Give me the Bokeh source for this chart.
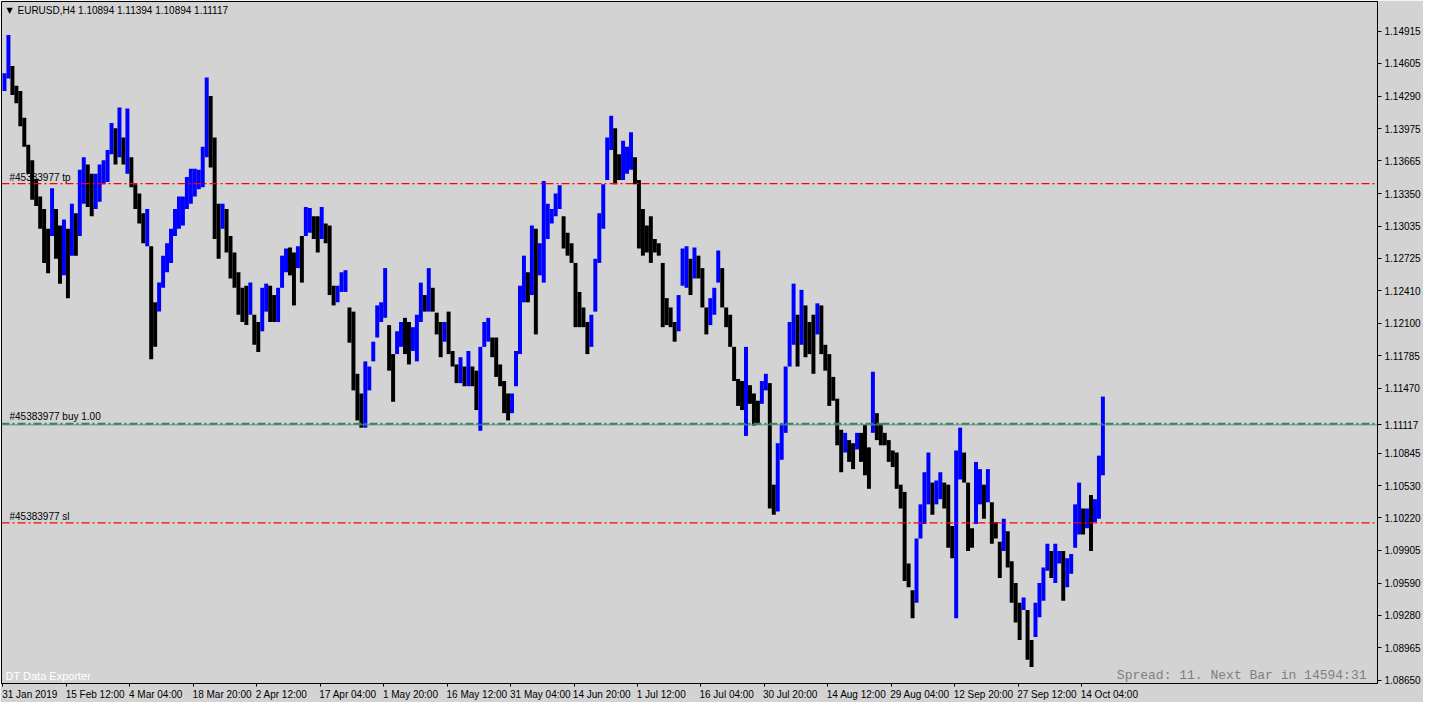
from bokeh.plotting import figure
from bokeh.models import (Range1d, LinearAxis, FixedTicker, Span, Label,
                          ColumnDataSource, NumeralTickFormatter)
from bokeh.embed import file_html
from bokeh.resources import INLINE

# ---------------- data ----------------
chart_title = "EURUSD,H4  1.10894 1.11394 1.10894 1.11117"

price_ticks = [1.14915, 1.14605, 1.14290, 1.13975, 1.13665, 1.13350, 1.13035,
               1.12725, 1.12410, 1.12100, 1.11785, 1.11470, 1.11117, 1.10845,
               1.10530, 1.10220, 1.09905, 1.09590, 1.09280, 1.08965, 1.08650]

time_labels = ["31 Jan 2019", "15 Feb 12:00", "4 Mar 04:00", "18 Mar 20:00",
               "2 Apr 12:00", "17 Apr 04:00", "1 May 20:00", "16 May 12:00",
               "31 May 04:00", "14 Jun 20:00", "1 Jul 12:00", "16 Jul 04:00",
               "30 Jul 20:00", "14 Aug 12:00", "29 Aug 04:00", "12 Sep 20:00",
               "27 Sep 12:00", "14 Oct 04:00"]
time_label_bars = [0, 64, 128, 192, 256, 320, 384, 448, 512, 576, 640, 704,
                   768, 832, 896, 960, 1024, 1088]

bars_per_group = 4          # each entry below summarises 4 consecutive H4 bars
price_base = 1.0800         # price = price_base + pips / 10000
high_pips = [
    651, 688, 658, 639, 634, 608, 582, 567, 549, 532, 520, 501, 540, 520, 504, 510,
    501, 525, 516, 558, 570, 563, 554, 554, 563, 567, 577, 603, 598, 618, 589, 617,
    570, 544, 535, 516, 520, 484, 430, 449, 475, 487, 501, 520, 532, 532, 551, 559,
    559, 558, 580, 647, 629, 589, 525, 525, 520, 494, 478, 459, 444, 446, 449, 418,
    411, 444, 448, 446, 437, 444, 475, 482, 483, 478, 484, 494, 522, 521, 513, 513,
    522, 506, 504, 446, 446, 459, 461, 425, 421, 361, 342, 373, 368, 392, 427, 430,
    463, 408, 380, 402, 411, 415, 411, 406, 418, 449, 437, 463, 444, 420, 411, 411,
    421, 383, 370, 377, 368, 383, 368, 364, 387, 411, 415, 396, 396, 370, 354, 342,
    342, 383, 446, 475, 459, 504, 501, 487, 547, 525, 520, 535, 543, 513, 497, 487,
    468, 440, 425, 411, 418, 472, 516, 544, 589, 610, 598, 573, 586, 580, 594, 570,
    548, 520, 504, 513, 491, 487, 468, 434, 425, 411, 437, 482, 484, 472, 483, 475,
    463, 425, 434, 444, 480, 463, 425, 418, 387, 356, 354, 387, 350, 342, 335, 354,
    361, 352, 254, 294, 313, 368, 411, 448, 418, 442, 427, 411, 418, 429, 427, 389,
    380, 358, 337, 307, 304, 297, 294, 304, 304, 312, 290, 363, 323, 313, 304, 297,
    287, 285, 254, 247, 178, 152, 202, 235, 266, 285, 256, 258, 266, 256, 254, 214,
    287, 309, 285, 256, 212, 276, 269, 254, 269, 237, 218, 199, 221, 209, 180, 159,
    140, 145, 133, 104, 140, 159, 174, 197, 190, 197, 190, 190, 183, 187, 235, 256,
    231, 231, 244, 240, 282, 339]
low_pips = [
    634, 646, 630, 622, 600, 580, 554, 529, 523, 501, 468, 458, 494, 472, 448, 456,
    434, 475, 475, 494, 525, 522, 513, 520, 527, 544, 546, 573, 563, 570, 563, 554,
    541, 520, 506, 487, 484, 375, 387, 421, 444, 459, 468, 494, 501, 504, 520, 525,
    532, 539, 541, 570, 560, 491, 472, 501, 478, 453, 444, 418, 411, 408, 418, 389,
    382, 402, 421, 411, 411, 411, 444, 459, 456, 427, 463, 449, 494, 497, 491, 478,
    491, 487, 437, 427, 430, 440, 440, 391, 345, 316, 309, 309, 345, 373, 396, 411,
    415, 364, 334, 380, 387, 380, 370, 383, 373, 411, 421, 421, 421, 399, 377, 392,
    380, 368, 352, 352, 349, 349, 349, 326, 306, 387, 392, 377, 358, 349, 323, 316,
    323, 349, 380, 430, 430, 437, 399, 456, 449, 491, 506, 513, 520, 482, 475, 468,
    406, 406, 406, 380, 387, 421, 468, 501, 548, 577, 544, 548, 548, 554, 558, 544,
    482, 475, 478, 468, 478, 475, 406, 408, 406, 392, 402, 446, 444, 437, 453, 453,
    425, 399, 408, 418, 449, 425, 406, 387, 354, 330, 326, 301, 332, 311, 312, 332,
    345, 231, 225, 228, 278, 304, 368, 389, 368, 389, 377, 380, 361, 399, 380, 364,
    330, 335, 292, 266, 285, 276, 269, 288, 276, 263, 250, 304, 297, 292, 292, 276,
    271, 250, 231, 161, 155, 125, 140, 202, 216, 235, 225, 235, 240, 231, 193, 183,
    125, 259, 256, 190, 193, 216, 235, 221, 237, 197, 202, 164, 190, 174, 140, 121,
    104, 133, 85, 78, 107, 126, 142, 171, 164, 159, 178, 142, 155, 168, 193, 206,
    206, 212, 190, 218, 221, 263]

tp_price = 1.13446
buy_price = 1.11127
bid_price = 1.11117
sl_price = 1.10172
order_id = "#45383977"

# ---------------- build ----------------
FONT = "Liberation Sans"
BG = "#d3d3d3"
FW, FH = 1376, 682
X0, X1 = -1.5, 1386.5
units_per_px = (X1 - X0) / FW

highs = [price_base + v / 10000 for v in high_pips]
lows = [price_base + v / 10000 for v in low_pips]
xs = [i * bars_per_group + (bars_per_group - 1) / 2 for i in range(len(highs))]
colors = []
prev_mid = None
for h, l in zip(highs, lows):
    mid = (h + l) / 2
    colors.append("#0000ff" if (prev_mid is None or mid >= prev_mid) else "#000000")
    prev_mid = mid

p = figure(frame_width=FW, frame_height=FH,
           x_range=Range1d(X0, X1), y_range=Range1d(1.08621, 1.15203),
           output_backend="svg", toolbar_location=None, y_axis_location=None,
           min_border_left=1, min_border_top=1, min_border_right=0,
           min_border_bottom=17,
           background_fill_color=BG, border_fill_color=BG,
           outline_line_color="black", outline_line_width=1)
p.xgrid.visible = False
p.ygrid.visible = False

# --- time axis: tick marks at the bar (minor ticks), labels left-aligned to them
ARIAL_W = {" ": 278, ":": 278, "J": 500, "a": 556, "n": 556, "F": 611, "e": 556,
           "b": 556, "M": 833, "r": 333, "A": 667, "p": 556, "y": 500, "u": 556,
           "l": 222, "S": 667, "O": 778, "c": 500, "t": 278, "g": 556}

def text_px(s, size=10.0):
    return sum(ARIAL_W.get(ch, 556) for ch in s) * size / 1000.0

label_pos = [int(round(b + (text_px(t) / 2 - 1) * units_per_px))
             for b, t in zip(time_label_bars, time_labels)]

xa = p.xaxis[0]
xa.ticker = FixedTicker(ticks=label_pos, minor_ticks=time_label_bars)
xa.major_label_overrides = {pos: t for pos, t in zip(label_pos, time_labels)}
xa.major_tick_line_color = None
xa.major_tick_out = 0
xa.major_tick_in = 0
xa.minor_tick_out = 3
xa.minor_tick_in = 0
xa.minor_tick_line_color = "black"
xa.axis_line_color = "black"
xa.major_label_text_font = FONT
xa.major_label_text_font_size = "10px"
xa.major_label_text_color = "black"
xa.major_label_standoff = 2

ya = LinearAxis(ticker=FixedTicker(ticks=price_ticks),
                formatter=NumeralTickFormatter(format="0.00000"),
                major_tick_out=4, major_tick_in=0, minor_tick_out=0, minor_tick_in=0,
                axis_line_color="black", major_tick_line_color="black",
                major_label_text_font=FONT, major_label_text_font_size="10px",
                major_label_text_color="black", major_label_standoff=3)
p.add_layout(ya, "right")

src = ColumnDataSource(dict(x=xs, top=highs, bottom=lows, color=colors))
p.vbar(x="x", width=bars_per_group, top="top", bottom="bottom",
       fill_color="color", line_color=None, source=src)

# order lines
p.add_layout(Span(location=tp_price, dimension="width", line_color="#ff0000",
                  line_dash="8 3 2 3", line_width=1.2))
p.add_layout(Span(location=bid_price, dimension="width", line_color="#778899",
                  line_width=1))
p.add_layout(Span(location=buy_price, dimension="width", line_color="#2e8b57",
                  line_dash="8 3 2 3", line_width=2))
p.add_layout(Span(location=sl_price, dimension="width", line_color="#ff0000",
                  line_dash="8 3 2 3", line_width=1.2))

def lab(**kw):
    base = dict(text_font=FONT, text_font_size="10px", text_color="black")
    base.update(kw)
    p.add_layout(Label(**base))

lab(x=8, x_units="screen", y=tp_price, text=order_id + " tp", text_baseline="bottom", y_offset=1)
lab(x=8, x_units="screen", y=buy_price, text=order_id + " buy 1.00", text_baseline="bottom", y_offset=2)
lab(x=8, x_units="screen", y=sl_price, text=order_id + " sl", text_baseline="bottom", y_offset=1)

# title
lab(x=5, y=FH - 9, x_units="screen", y_units="screen", text="\u25bc",
    text_font="DejaVu Sans", text_font_size="8px", text_baseline="middle")
lab(x=16, y=FH - 9, x_units="screen", y_units="screen", text=chart_title,
    text_baseline="middle")

# footer texts
lab(x=4, y=8, x_units="screen", y_units="screen", text="DT Data Exporter",
    text_color="white", text_font_size="11px", text_baseline="middle")
lab(x=FW - 11, y=8, x_units="screen", y_units="screen",
    text="Spread: 11. Next Bar in 14594:31", text_font="Liberation Mono",
    text_font_size="13px", text_color="#7f7f7f", text_align="right",
    text_baseline="middle")

open("out.html", "w").write(file_html(p, INLINE))
